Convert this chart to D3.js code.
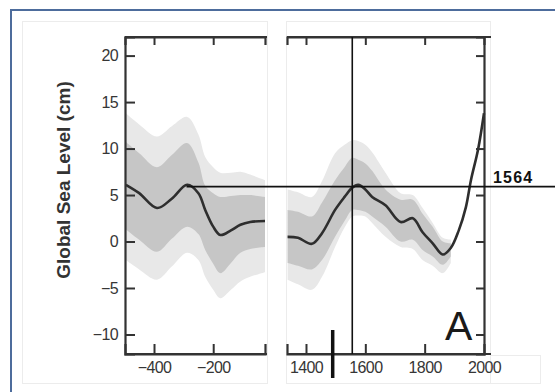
<!DOCTYPE html>
<html>
<head>
<meta charset="utf-8">
<script src="https://cdn.jsdelivr.net/npm/d3@7"></script>
<style>
  body { margin: 0; background: #fff; }
  svg { display: block; }
  .tick text { font-family: "Liberation Sans", Arial, sans-serif; font-size: 16px; letter-spacing: -0.6px; fill: #363636; }
</style>
</head>
<body>
<script>
// sea level data (cm)
var leftYears  = [-495, -450, -390, -340, -288, -250, -227, -200, -176, -140, -108, -75, -25];
var leftMean   = [6.1, 5.2, 3.6, 4.6, 6.1, 5.2, 3.4, 1.6, 0.7, 1.2, 1.8, 2.1, 2.2];
var leftDarkHi = [10.7, 9.5, 8.0, 9.3, 10.6, 8.5, 6.0, 5.2, 4.8, 4.9, 5.0, 5.0, 4.8];
var leftDarkLo = [1.3, 0.2, -1.1, 0.3, 1.6, 0.8, -0.9, -2.4, -3.4, -2.3, -1.2, -0.8, -0.6];
var leftLightHi = [13.8, 12.6, 11.3, 12.4, 13.4, 11.5, 9.1, 8.0, 7.4, 7.4, 7.5, 7.2, 6.6];
var leftLightLo = [-2.0, -3.0, -4.1, -2.7, -1.2, -2.0, -3.8, -5.2, -6.1, -5.2, -4.3, -3.8, -3.3];

var rightYears  = [1338, 1373, 1420, 1454, 1498, 1530, 1556, 1576, 1600, 1623, 1668, 1719, 1760, 1793, 1827, 1861, 1888];
var rightMean   = [0.5, 0.4, -0.25, 0.9, 3.4, 4.8, 5.8, 6.1, 5.6, 4.8, 3.9, 2.1, 2.5, 1.0, -0.2, -1.4, -0.7];
var rightDarkHi = [3.4, 3.2, 2.7, 4.2, 6.6, 8.0, 9.0, 8.8, 8.4, 7.6, 5.6, 4.5, 4.5, 3.0, 1.6, 0.0, -0.2];
var rightDarkLo = [-2.3, -2.6, -3.0, -2.0, 0.5, 2.2, 3.4, 3.4, 3.2, 2.7, 1.6, 0.0, 0.2, -0.9, -1.6, -2.5, -1.6];
var rightLightHi = [5.6, 5.3, 4.8, 6.5, 9.5, 10.4, 10.9, 10.8, 10.4, 9.6, 7.4, 5.2, 5.0, 3.6, 2.0, 0.4, 0.2];
var rightLightLo = [-4.1, -4.6, -5.2, -3.8, -0.6, 1.5, 2.7, 2.8, 2.7, 2.0, 0.5, -0.6, -0.8, -2.0, -2.6, -3.4, -2.3];
// modern rise, line only
var riseYears = [1888, 1915, 1939, 1956, 1980, 2000];
var riseMean  = [-0.7, 1.2, 3.7, 6.6, 9.9, 13.8];

var yTicks = [20, 15, 10, 5, 0, -5, -10];
var leftTicks = [-400, -200];
var rightTicks = [1400, 1600, 1800, 2000];
var markYear = 1556, markLevel = 5.9, markLabel = "1564";
var barYear = 1490;

var w = 555, h = 392;
var svg = d3.select("body").append("svg").attr("width", w).attr("height", h);

// outer blue frame
svg.append("rect").attr("x", 11).attr("y", 10).attr("width", 560).attr("height", 400)
   .attr("fill", "none").attr("stroke", "#4d6c9c").attr("stroke-width", 2);

// faint panel boxes
svg.append("rect").attr("x", 22.5).attr("y", 21.5).attr("width", 245).attr("height", 362)
   .attr("fill", "#fff").attr("stroke", "#ececec");
svg.append("rect").attr("x", 286.5).attr("y", 21.5).attr("width", 204).attr("height", 362)
   .attr("fill", "#fff").attr("stroke", "#ececec");
svg.append("rect").attr("x", 490.5).attr("y", 355.5).attr("width", 50).attr("height", 28)
   .attr("fill", "#fff").attr("stroke", "#ececec");

var yTop = 37, yBottom = 354;
var y = d3.scaleLinear().domain([-12.1, 22]).range([yBottom, yTop]);
var xl = d3.scaleLinear().domain([-498, -25]).range([125, 265]);
var xr = d3.scaleLinear().domain([1336, 2000]).range([287, 484]);

function bandArea(x) {
  return d3.area().x(d => x(d[0])).y0(d => y(d[1])).y1(d => y(d[2])).curve(d3.curveCatmullRom);
}
function meanLine(x) {
  return d3.line().x(d => x(d[0])).y(d => y(d[1])).curve(d3.curveCatmullRom);
}

// left panel bands + mean
svg.append("path").datum(leftYears.map((v, i) => [v, leftLightLo[i], leftLightHi[i]]))
   .attr("d", bandArea(xl)).attr("fill", "#e8e8e8");
svg.append("path").datum(leftYears.map((v, i) => [v, leftDarkLo[i], leftDarkHi[i]]))
   .attr("d", bandArea(xl)).attr("fill", "#c6c6c6");
svg.append("path").datum(leftYears.map((v, i) => [v, leftMean[i]]))
   .attr("d", meanLine(xl)).attr("fill", "none").attr("stroke", "#2e2e2e").attr("stroke-width", 2.6);

// right panel bands + mean
svg.append("path").datum(rightYears.map((v, i) => [v, rightLightLo[i], rightLightHi[i]]))
   .attr("d", bandArea(xr)).attr("fill", "#e8e8e8");
svg.append("path").datum(rightYears.map((v, i) => [v, rightDarkLo[i], rightDarkHi[i]]))
   .attr("d", bandArea(xr)).attr("fill", "#c6c6c6");
var rAll = rightYears.map((v, i) => [v, rightMean[i]]).concat(riseYears.slice(1).map((v, i) => [v, riseMean[i + 1]]));
svg.append("path").datum(rAll)
   .attr("d", meanLine(xr))
   .attr("fill", "none").attr("stroke", "#2e2e2e").attr("stroke-width", 2.6);

// axes, left panel
svg.append("g").attr("transform", "translate(125,0)")
   .call(d3.axisRight(y).tickValues(yTicks).tickSize(10).tickFormat(""));
var gll = svg.append("g").attr("transform", "translate(125,0)")
   .call(d3.axisLeft(y).tickValues(yTicks).tickSize(0).tickPadding(7));
gll.select(".domain").remove();
svg.append("g").attr("transform", "translate(0," + yBottom + ")")
   .call(d3.axisTop(xl).tickValues(leftTicks).tickSize(10).tickFormat(""));
svg.append("g").attr("transform", "translate(0," + yBottom + ")")
   .call(d3.axisBottom(xl).tickValues(leftTicks).tickSize(0).tickPadding(8))
   .select(".domain").remove();
svg.append("g").attr("transform", "translate(0," + yTop + ")")
   .call(d3.axisBottom(xl).tickValues(leftTicks).tickSize(8).tickFormat(""));

// axes, right panel
svg.append("g").attr("transform", "translate(484,0)")
   .call(d3.axisLeft(y).tickValues(yTicks).tickSize(8).tickFormat(""));
svg.append("g").attr("transform", "translate(0," + yBottom + ")")
   .call(d3.axisTop(xr).tickValues(rightTicks.slice(0, 3)).tickSize(10).tickFormat(""));
svg.append("g").attr("transform", "translate(0," + yBottom + ")")
   .call(d3.axisBottom(xr).tickValues(rightTicks).tickSize(0).tickPadding(8).tickFormat(d3.format("d")))
   .select(".domain").remove();
svg.append("g").attr("transform", "translate(0," + yTop + ")")
   .call(d3.axisBottom(xr).tickValues(rightTicks.slice(0, 3)).tickSize(8).tickFormat(""));

svg.selectAll(".domain").attr("stroke", "#333").attr("stroke-width", 2.2);
svg.selectAll(".tick line").attr("stroke", "#333").attr("stroke-width", 2);
// frame lines extend a bit past panel
svg.append("line").attr("x1", 125).attr("x2", 267).attr("y1", yTop).attr("y2", yTop).attr("stroke", "#333").attr("stroke-width", 2.2);
svg.append("line").attr("x1", 125).attr("x2", 267).attr("y1", yBottom).attr("y2", yBottom).attr("stroke", "#333").attr("stroke-width", 2.2);
svg.append("line").attr("x1", 287).attr("x2", 491).attr("y1", yTop).attr("y2", yTop).attr("stroke", "#333").attr("stroke-width", 2.2);
svg.append("line").attr("x1", 287).attr("x2", 491).attr("y1", yBottom).attr("y2", yBottom).attr("stroke", "#333").attr("stroke-width", 2.2);

// marker lines
svg.append("line").attr("x1", xl(-290)).attr("x2", w).attr("y1", y(markLevel)).attr("y2", y(markLevel))
   .attr("stroke", "#111").attr("stroke-width", 1.6);
svg.append("line").attr("x1", xr(markYear)).attr("x2", xr(markYear)).attr("y1", yTop).attr("y2", yBottom)
   .attr("stroke", "#111").attr("stroke-width", 1.6);
svg.append("text").attr("x", 493).attr("y", y(markLevel) - 4).text(markLabel)
   .attr("font-family", "Liberation Sans, Arial, sans-serif").attr("font-weight", "bold")
   .attr("font-size", 16).attr("letter-spacing", 1.2).attr("fill", "#111");
svg.append("line").attr("x1", xr(barYear)).attr("x2", xr(barYear)).attr("y1", 330).attr("y2", 378)
   .attr("stroke", "#111").attr("stroke-width", 3.5);

// panel letter
svg.append("text").attr("x", 445).attr("y", 340).text("A")
   .attr("font-family", "Liberation Sans, Arial, sans-serif").attr("font-size", 41).attr("fill", "#1a1a1a");

// y axis title
svg.append("text").attr("transform", "translate(70,180) rotate(-90)").attr("text-anchor", "middle")
   .text("Global Sea Level (cm)")
   .attr("font-family", "Liberation Sans, Arial, sans-serif")
   .attr("font-weight", "bold").attr("font-size", 19).attr("fill", "#333");
</script>
</body>
</html>
